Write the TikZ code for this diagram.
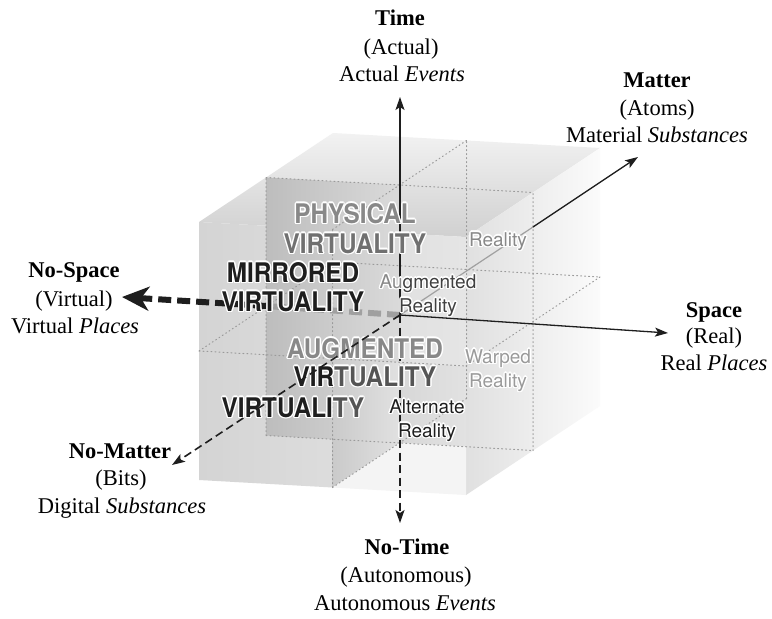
\documentclass[tikz,border=0pt]{standalone}
\usepackage{fontspec}
\setmainfont{Liberation Serif}
\newfontfamily\cubesans{TeX Gyre Heros}
\newfontfamily\cubebold[FakeStretch=0.9]{TeX Gyre Heros}
\usetikzlibrary{arrows.meta}

% face and ink colours
\definecolor{topA}{HTML}{D0D0D0}
\definecolor{topB}{HTML}{F2F2F2}
\definecolor{rightA}{HTML}{E0E0E0}
\definecolor{rightB}{HTML}{FBFBFB}
\definecolor{frontA}{HTML}{D4D4D4}
\definecolor{frontB}{HTML}{E5E5E5}
\definecolor{panelA}{HTML}{BDBDBD}
\definecolor{panelB}{HTML}{DADADA}
\definecolor{openBackA}{HTML}{D7D7D7}
\definecolor{openBackB}{HTML}{EDEDED}
\definecolor{openLeftA}{HTML}{CACACA}
\definecolor{openLeftB}{HTML}{E1E1E1}
\definecolor{floorC}{HTML}{F4F4F4}
\definecolor{gridC}{HTML}{9A9A9A}
\definecolor{inkDark}{HTML}{1E1E1E}
\definecolor{inkMid}{HTML}{555555}
\definecolor{inkSoft}{HTML}{707070}
\definecolor{inkPale}{HTML}{888888}
\definecolor{inkFaint}{HTML}{9A9A9A}
\definecolor{hiddenAx}{HTML}{A0A0A0}

% white outline behind cube labels
\newif\ifhalo
\newcommand\hc[2]{\ifhalo#2\else\textcolor{#1}{#2}\fi}
\newcommand\halocopy[3]{\rlap{\raisebox{#2}{\kern#1\relax #3}}}
\newcommand\halo[1]{\leavevmode{\halotrue\color{white}%
  \halocopy{1.4pt}{0pt}{#1}\halocopy{-1.4pt}{0pt}{#1}%
  \halocopy{0pt}{1.4pt}{#1}\halocopy{0pt}{-1.4pt}{#1}%
  \halocopy{1pt}{1pt}{#1}\halocopy{-1pt}{1pt}{#1}%
  \halocopy{1pt}{-1pt}{#1}\halocopy{-1pt}{-1pt}{#1}}#1}

\tikzset{
  gridline/.style={gridC, line width=1pt, dash pattern=on 1pt off 3pt, line cap=round},
  axisline/.style={line width=1.3pt, inkDark},
  tip/.style={-{Stealth[length=13pt,width=9pt,inset=3pt]}},
  fineDash/.style={dash pattern=on 8pt off 4.5pt},
  heavyDash/.style={line width=6pt, dash pattern=on 13pt off 6pt},
  bigtip/.style={-{Stealth[length=27pt,width=24pt,inset=8pt]}},
  axtitle/.style={font=\fontsize{22.5}{27}\selectfont\bfseries, anchor=base, inner sep=0pt},
  axtext/.style={font=\fontsize{22.5}{27}\selectfont, anchor=base, inner sep=0pt},
  capword/.style={font=\cubebold\bfseries\fontsize{27}{30}\selectfont, anchor=base, inner sep=0pt},
  plainword/.style={font=\cubesans\fontsize{19}{22}\selectfont, anchor=base, inner sep=0pt},
}

\begin{document}
\begin{tikzpicture}[x=1pt,y=-1pt]
\useasboundingbox (0,0) rectangle (772,619);
\fill[white] (0,0) rectangle (772,619);

% lattice points of the 2x2x2 block: i across, j up, k into depth
\foreach \i in {0,1,2}{
  \foreach \j in {0,1,2}{
    \foreach \k in {0,1,2}{
      \coordinate (p\i\j\k) at ({199+133.5*\i+67*\k},{480+7.5*\i-129*\j-44.5*\k});
}}}

% outer faces
\shade[top color=topB, bottom color=topA] (p020)--(p220)--(p222)--(p022)--cycle;
\shade[left color=rightA, right color=rightB] (p200)--(p202)--(p222)--(p220)--cycle;
\shade[left color=frontA, right color=frontB]
  (p000)--(p100)--(p110)--(p210)--(p220)--(p020)--cycle;
% darker middle panel seen through the front
\shade[left color=panelA, right color=panelB] (p001)--(p101)--(p121)--(p021)--cycle;

% the open lower-front-right cell
\begin{scope}
  \clip (p100)--(p200)--(p210)--(p110)--cycle;
  \shade[left color=openBackA, right color=openBackB] (p101)--(p201)--(p211)--(p111)--cycle;
  \shade[left color=openLeftA, right color=openLeftB] (p100)--(p101)--(p111)--(p110)--cycle;
  \fill[floorC] (p100)--(p200)--(p201)--(p101)--cycle;
\end{scope}

% dotted cell divisions
\draw[gridline]
  (p001)--(p201) (p010)--(p210) (p012)--(p212) (p021)--(p221)
  (p001)--(p021) (p100)--(p120) (p102)--(p122) (p201)--(p221)
  (p010)--(p012) (p100)--(p102) (p120)--(p122) (p210)--(p212);

% axes
\coordinate (C) at (400,315);
\coordinate (tTime) at (400,97);
\coordinate (tNoTime) at (400,523);
\coordinate (tSpace) at (668,333);
\coordinate (tNoSpace) at (122,297);
\coordinate (tMatter) at (638,157);
\coordinate (tNoMatter) at (172,465);
\coordinate (mExit) at (533,227);
\coordinate (sExit) at (266,306);

\draw[heavyDash, hiddenAx] (C)--(sExit);
\draw[heavyDash, inkDark, bigtip] (sExit)--(tNoSpace);
\draw[axisline, hiddenAx, line width=1.2pt] (C)--(mExit);
\draw[axisline, tip] (mExit)--(tMatter);
\draw[axisline, tip] (C)--(tTime);
\draw[axisline, tip] (C)--(tSpace);
\draw[axisline, fineDash, line width=1.6pt, tip] (C)--(tNoTime);

% cell labels
\node[capword, text=inkPale] (physA) at (355,223) {\halo{PHYSICAL}};
\node[capword, text=inkSoft] (physB) at (355,253) {\halo{VIRTUALITY}};
\node[capword, text=inkDark] (mirrA) at (293,282) {\halo{MIRRORED}};
\node[capword, text=inkDark] (mirrB) at (293,311) {\halo{VIRTUALITY}};
\node[capword, text=inkPale] (augvA) at (365,358) {\halo{AUGMENTED}};
\node[capword, text=inkMid] (augvB) at (365,386) {\halo{\hc{inkDark}{VIR}TUALITY}};
\node[capword, text=inkDark] (virt) at (293,417) {\halo{VIRTUALI\hc{inkMid}{TY}}};

\node[plainword, text=inkPale] (real) at (498,246) {\halo{Reality}};
\node[plainword, text=inkDark!85] (augrA) at (428,288) {\halo{\hc{inkPale}{Au}gmented}};
\node[plainword, text=inkDark!85] (augrB) at (428,312) {\halo{Reality}};
\node[plainword, text=inkFaint] (warpA) at (498,363) {\halo{Warped}};
\node[plainword, text=inkFaint] (warpB) at (498,387) {\halo{Reality}};
\node[plainword, text=inkDark] (altA) at (427,413) {\halo{Alternate}};
\node[plainword, text=inkDark] (altB) at (427,437) {\halo{Reality}};

\draw[axisline, fineDash, line width=1.6pt, tip] (C)--(tNoMatter);

% axis labels
\node[axtitle] (timeT) at (400,25) {Time};
\node[axtext] (timeA) at (401,54) {(Actual)};
\node[axtext] (timeB) at (402,81) {Actual \textit{Events}};

\node[axtitle] (matT) at (657,87) {Matter};
\node[axtext] (matA) at (657,115) {(Atoms)};
\node[axtext] (matB) at (657,142) {Material \textit{Substances}};

\node[axtitle] (nspT) at (74,277) {No-Space};
\node[axtext] (nspA) at (74,306) {(Virtual)};
\node[axtext] (nspB) at (75,333) {Virtual \textit{Places}};

\node[axtitle] (spT) at (714,317) {Space};
\node[axtext] (spA) at (714,343) {(Real)};
\node[axtext] (spB) at (714,370) {Real \textit{Places}};

\node[axtitle] (nmT) at (120,458) {No-Matter};
\node[axtext] (nmA) at (121,485) {(Bits)};
\node[axtext] (nmB) at (122,513) {Digital \textit{Substances}};

\node[axtitle] (ntT) at (407,554) {No-Time};
\node[axtext] (ntA) at (406,582) {(Autonomous)};
\node[axtext] (ntB) at (405,610) {Autonomous \textit{Events}};
\end{tikzpicture}
\end{document}
